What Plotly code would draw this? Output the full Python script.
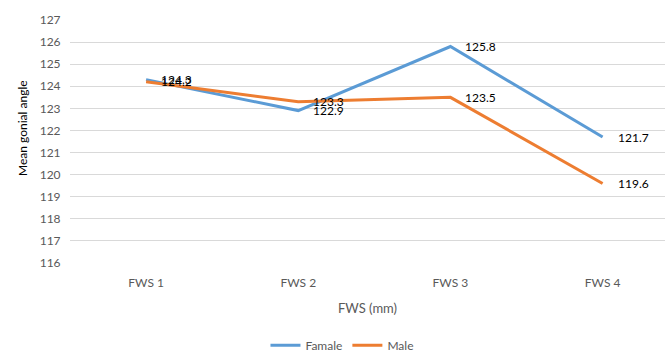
import plotly.graph_objects as go

categories = ["FWS 1", "FWS 2", "FWS 3", "FWS 4"]
female = [124.3, 122.9, 125.8, 121.7]
male = [124.2, 123.3, 123.5, 119.6]
y_ticks = list(range(116, 128))

BLUE = "#5B9BD5"
ORANGE = "#ED7D31"
FONT = "Lato"
GREY = "#595959"

fig = go.Figure()
xs = list(range(len(categories)))
fig.add_trace(go.Scatter(x=xs, y=female, mode="lines",
                         name="Famale", line=dict(color=BLUE, width=3)))
fig.add_trace(go.Scatter(x=xs, y=male, mode="lines",
                         name="Male", line=dict(color=ORANGE, width=3)))

for series in (female, male):
    for i, v in enumerate(series):
        fig.add_annotation(x=i, y=v, text=f"{v:.1f}", showarrow=False,
                           xanchor="left", yanchor="middle", xshift=13,
                           font=dict(family=FONT, size=12, color="#000000"))

# y-axis title
fig.add_annotation(xref="paper", yref="paper", x=-0.081, y=0.555, xanchor="center",
                   yanchor="middle", text="Mean gonial angle", textangle=-90,
                   showarrow=False, font=dict(family=FONT, size=12, color="#000000"))

fig.update_layout(
    width=665, height=354,
    margin=dict(l=70, r=0, t=20, b=91, autoexpand=False),
    paper_bgcolor="white", plot_bgcolor="white",
    font=dict(family=FONT, size=12, color=GREY),
    showlegend=True,
    legend=dict(orientation="h", x=0.515, xanchor="center", xref="container",
                y=0.025, yanchor="middle", yref="container",
                font=dict(family=FONT, size=12, color=GREY),
                itemwidth=30, tracegroupgap=0, bgcolor="rgba(0,0,0,0)"),
)
fig.update_xaxes(range=[-0.5, 3.41], tickvals=xs, automargin=False,
                 ticktext=categories, showgrid=False, zeroline=False, showline=False,
                 ticks="outside", ticklen=9, tickcolor="rgba(0,0,0,0)",
                 tickfont=dict(family=FONT, size=12, color=GREY),
                 title=dict(text="FWS (mm)", font=dict(family=FONT, size=13, color=GREY),
                            standoff=14))
fig.update_yaxes(range=[116, 127], tickvals=y_ticks, showgrid=True, gridcolor="#D9D9D9",
                 gridwidth=1, zeroline=False, showline=False, automargin=False,
                 ticks="outside", ticklen=6, tickcolor="rgba(0,0,0,0)",
                 tickfont=dict(family=FONT, size=12, color=GREY))

fig.write_html("out.html")
